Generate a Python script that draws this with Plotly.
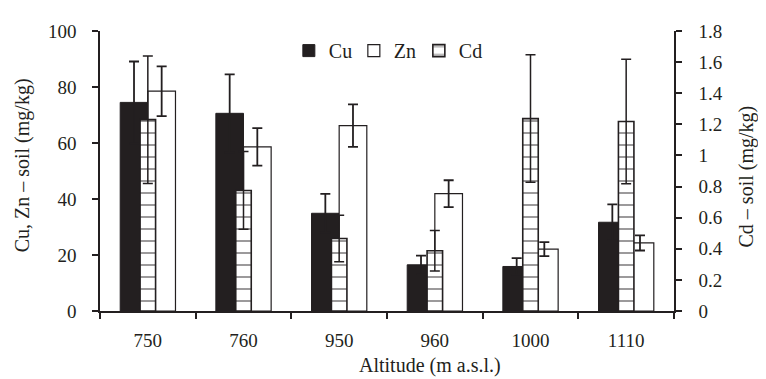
import plotly.graph_objects as go

altitudes = ["750", "760", "950", "960", "1000", "1110"]
cu_values = [74.5, 70.6, 34.9, 16.5, 15.9, 31.7]
cu_errors = [14.6, 13.9, 6.9, 3.3, 3.0, 6.4]
zn_values = [78.5, 58.6, 66.2, 41.9, 22.1, 24.3]
zn_errors = [8.9, 6.7, 7.6, 4.8, 2.5, 2.7]
cd_values = [1.23, 0.775, 0.466, 0.387, 1.237, 1.218]
cd_errors = [0.41, 0.25, 0.15, 0.13, 0.41, 0.40]

FONT = "Liberation Serif"
INK = "#231f20"

fig = go.Figure()
fig.add_trace(go.Bar(
    name="Cu", x=altitudes, y=cu_values, offset=-0.289, width=0.289,
    marker=dict(color=INK, line=dict(color=INK, width=1)),
    error_y=dict(type="data", array=cu_errors, color=INK, thickness=1.8, width=5),
))
fig.add_trace(go.Bar(
    name="Zn", x=altitudes, y=zn_values, offset=0.0, width=0.289,
    marker=dict(color="white", line=dict(color=INK, width=1.2)),
    error_y=dict(type="data", array=zn_errors, color=INK, thickness=1.8, width=5),
))
fig.add_trace(go.Bar(
    name="Cd", x=altitudes, y=cd_values, offset=-0.081, width=0.162, yaxis="y2",
    marker=dict(color="white", line=dict(color=INK, width=1.6),
                pattern=dict(shape="-", fgcolor=INK, bgcolor="white", size=12, solidity=0.15)),
    error_y=dict(type="data", array=cd_errors, color=INK, thickness=1.5, width=5),
))

def axis_style(standoff):
    return dict(showline=True, linecolor=INK, linewidth=1.5, ticks="outside",
                tickcolor=INK, tickwidth=1.5, ticklen=6, showgrid=False, zeroline=False,
                tickfont=dict(family=FONT, size=19, color=INK), ticklabelstandoff=standoff)

fig.update_layout(
    width=758, height=371,
    margin=dict(l=92, r=92, t=23, b=68),
    paper_bgcolor="white", plot_bgcolor="white",
    barmode="overlay",
    font=dict(family=FONT, size=19, color=INK),
    xaxis=dict(**axis_style(11), type="category", tickson="boundaries", range=[-0.5, 5.5]),
    yaxis=dict(**axis_style(12), range=[0, 100], dtick=20),
    yaxis2=dict(**axis_style(13), range=[0, 1.8], dtick=0.2, overlaying="y", side="right"),
    legend=dict(orientation="h", x=0.329, y=0.93, xanchor="left", yanchor="middle",
                bgcolor="rgba(0,0,0,0)", font=dict(family=FONT, size=20, color=INK),
                itemwidth=30, traceorder="normal", entrywidth=20, entrywidthmode="pixels"),
    showlegend=True,
    annotations=[
        dict(text="Altitude (m a.s.l.)", xref="paper", yref="paper", x=0.575, y=-0.196,
             xanchor="center", yanchor="middle", showarrow=False,
             font=dict(family=FONT, size=20, color=INK)),
        dict(text="Cu, Zn – soil (mg/kg)", xref="paper", yref="paper", x=-0.136, y=0.52,
             xanchor="center", yanchor="middle", textangle=-90, showarrow=False,
             font=dict(family=FONT, size=20, color=INK)),
        dict(text="Cd – soil (mg/kg)", xref="paper", yref="paper", x=1.127, y=0.48,
             xanchor="center", yanchor="middle", textangle=-90, showarrow=False,
             font=dict(family=FONT, size=20, color=INK)),
    ],
)

fig.write_html("out.html")
